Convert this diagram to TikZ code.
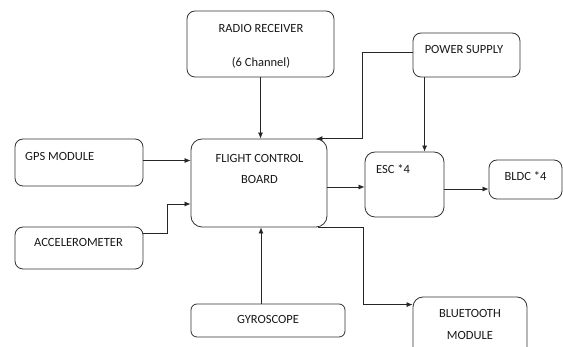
\documentclass[tikz,border=0pt]{standalone}
\usepackage{fontspec}
\setmainfont{Carlito}
\usetikzlibrary{arrows.meta}

\begin{document}
\begin{tikzpicture}[> = {Latex[length = 6pt, width = 5pt]}, x = 1pt, y = -1pt, font = \fontsize{12.5}{15}\selectfont,
	block/.style = {draw = black!80, line width = 0.8pt, rounded corners = 8pt},
	lbl/.style = {inner sep = 0pt, text = black!90, align = center},
	link/.style = {draw = black!85, line width = 0.75pt, ->}]

	% Page (the bluetooth box runs off the bottom edge)

	\clip (0, 0) rectangle (563, 347);
	\fill [white] (0, 0) rectangle (563, 347);

	% Draw blocks

	\node [block, minimum width = 147pt, minimum height = 66pt] (radio) at (260.5, 44) {};
	\node [block, minimum width = 107pt, minimum height = 44pt] (ps) at (466.5, 55) {};
	\node [block, minimum width = 128pt, minimum height = 47pt] (gps) at (79, 162.5) {};
	\node [block, minimum width = 136pt, minimum height = 88pt, rounded corners = 11pt] (fcb) at (259, 183) {};
	\node [block, minimum width = 79pt, minimum height = 65pt, rounded corners = 10pt] (esc) at (404.5, 184.5) {};
	\node [block, minimum width = 73pt, minimum height = 39pt] (bldc) at (525.5, 179.5) {};
	\node [block, minimum width = 128pt, minimum height = 42pt] (acc) at (79, 248) {};
	\node [block, minimum width = 154pt, minimum height = 33pt, rounded corners = 6pt] (gyro) at (268, 320.5) {};
	\node [block, minimum width = 114pt, minimum height = 70pt, rounded corners = 10pt] (bt) at (470, 332) {};

	% Block labels

	\node [lbl] (radio-t) at (261, 46) {RADIO RECEIVER\\[19pt](6 Channel)};
	\node [lbl] (ps-t) at (464, 49) {POWER SUPPLY};
	\node [lbl, anchor = west] (gps-t) at (25, 156) {GPS MODULE};
	\node [lbl] (fcb-t) at (259.5, 168.5) {FLIGHT CONTROL\\[6pt]BOARD};
	\node [lbl, anchor = west] (esc-t) at (376, 169) {ESC *4};
	\node [lbl] (bldc-t) at (525.5, 176) {BLDC *4};
	\node [lbl] (acc-t) at (78.5, 242) {ACCELEROMETER};
	\node [lbl] (gyro-t) at (268, 319) {GYROSCOPE};
	\node [lbl] (bt-t) at (470, 324) {BLUETOOTH\\[7pt]MODULE};

	% Draw connectors

	\draw [link] (radio.south) -- (radio.south |- fcb.north);
	\draw [link] ([yshift = 3pt]ps.west) -- ++(-50, 0) |- ([xshift = -11pt]fcb.north east);
	\draw [link] ([xshift = 12pt]ps.south west) -- ([xshift = 12pt]ps.south west |- esc.north);
	\draw [link] ([yshift = 2pt]gps.east) -- ([yshift = 2pt]gps.east -| fcb.west);
	\draw [link] ([yshift = 15pt]acc.east) -- ++(24, 0) |- ([yshift = -21pt]fcb.west);
	\draw [link] ([yshift = -4pt]fcb.east) -- ([yshift = -4pt]fcb.east -| esc.west);
	\draw [link] ([yshift = -4.5pt]esc.east) -- ([yshift = -4.5pt]esc.east -| bldc.west);
	\draw [link] ([xshift = -7pt]gyro.north) -- ([xshift = -7pt]gyro.north |- fcb.south);
	\draw [link] ([xshift = -9pt]fcb.south east) -- ++(45, 0) |- ([yshift = -8pt]bt.north west);

\end{tikzpicture}
\end{document}
